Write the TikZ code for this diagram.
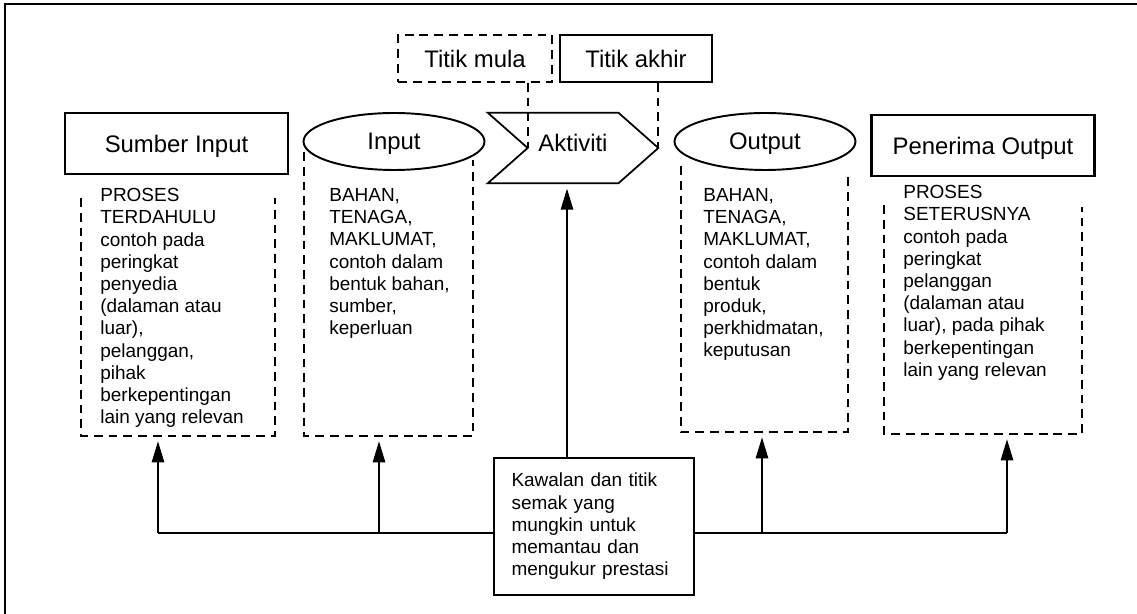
\documentclass[tikz,border=0pt]{standalone}
\usepackage{fontspec}
\setmainfont{Liberation Sans}
\usetikzlibrary{shapes.geometric, arrows.meta}
\tikzset{
	head/.style = {font=\fontsize{13.6}{16}\selectfont, text depth=0pt},
	srcbox/.style = {shape=rectangle, draw, line width=1.6pt, head, minimum width=4.46cm, minimum height=1.22cm},
	ioell/.style = {shape=ellipse, draw, line width=1.1pt, head, inner sep=0pt, minimum width=3.62cm, minimum height=1.14cm},
	ptbox/.style = {shape=rectangle, draw, line width=1pt, head, minimum height=0.94cm},
	desc/.style = {align=left, inner sep=0pt, anchor=north west, font=\fontsize{10.8}{12.65}\selectfont},
	ctrl/.style = {shape=rectangle, draw, line width=1pt, align=left, text width=3.3cm, inner xsep=0.35cm, inner ysep=0.3cm, font=\fontsize{10.8}{12.65}\selectfont},
	dashline/.style = {dash pattern=on 5pt off 3.4pt, line width=1.1pt},
	flow/.style = {-{Triangle[length=12pt, width=7pt]}, line width=1pt, shorten >=3pt},
}
\begin{document}
\begin{tikzpicture}[x=0.02cm, y=-0.02cm]
		\useasboundingbox (0,0) rectangle (1137,614);
		\clip (0,0) rectangle (1137,614);
		\draw[line width=1.1pt] (5,4) rectangle (1200,700);

		\node[srcbox] (sumber) at (176.5,143.5) {Sumber Input};
		\node[ioell] (input) at (394,141.5) {Input};
		\node[head, text depth=0.2cm, minimum width=3.4cm, minimum height=1.4cm] (aktiviti) at (573,148) {Aktiviti};
		\node[ioell] (output) at (765,141.5) {Output};
		\node[srcbox] (penerima) at (983,145.5) {Penerima Output};

		\node[ptbox, dashline, minimum width=3.08cm] (mula) at (475,58.5) {Titik mula};
		\node[ptbox, minimum width=3.04cm] (akhir) at (636,58.5) {Titik akhir};

		\draw[line width=1pt] (aktiviti.north west) -- ([xshift=-0.8cm]aktiviti.north east) -- (aktiviti.east)
			-- ([xshift=-0.8cm]aktiviti.south east) -- (aktiviti.south west) -- ([xshift=0.8cm]aktiviti.west) -- cycle;
		\coordinate (mula-pt) at ([xshift=0.8cm]aktiviti.west);
		\draw[dashline] (mula.south -| mula-pt) -- (mula-pt);
		\draw[dashline] (akhir.south -| aktiviti.east) -- (aktiviti.east);

		\draw[dashline] (81,198) |- (275,436) -- (275,198);
		\draw[dashline] (304,152) |- (473,436) -- (473,160);
		\draw[dashline] (681,166) |- (848,432) -- (848,172);
		\draw[dashline] (884,205) |- (1082,434) -- (1082,207);

		\node[desc] (sumber-txt) at (100,188) {PROSES\\TERDAHULU\\contoh pada\\peringkat\\penyedia\\(dalaman atau\\luar),\\pelanggan,\\pihak\\berkepentingan\\lain yang relevan};
		\node[desc] (input-txt) at (329,188) {BAHAN,\\TENAGA,\\MAKLUMAT,\\contoh dalam\\bentuk bahan,\\sumber,\\keperluan};
		\node[desc] (output-txt) at (703,188) {BAHAN,\\TENAGA,\\MAKLUMAT,\\contoh dalam\\bentuk\\produk,\\perkhidmatan,\\keputusan};
		\node[desc] (penerima-txt) at (903,185) {PROSES\\SETERUSNYA\\contoh pada\\peringkat\\pelanggan\\(dalaman atau\\luar), pada pihak\\berkepentingan\\lain yang relevan};

		\node[ctrl] (kawalan) at (594,526.5) {Kawalan dan titik\\semak yang\\mungkin untuk\\memantau dan\\mengukur prestasi};

		\coordinate (bus-l) at (158,533);
		\coordinate (bus-r) at (1007,533);
		\coordinate (sumber-in) at (158,436);
		\coordinate (input-in) at (379,436);
		\coordinate (output-in) at (762,432);
		\coordinate (penerima-in) at (1007,434);
		\coordinate (ctl) at (567,0);

		\draw[line width=1pt] (bus-l) -- (kawalan.west |- bus-l);
		\draw[line width=1pt] (kawalan.east |- bus-r) -- (bus-r);
		\draw[flow] (bus-l) -- (sumber-in);
		\draw[flow] (bus-l -| input-in) -- (input-in);
		\draw[flow] (bus-r -| output-in) -- (output-in);
		\draw[flow] (bus-r) -- (penerima-in);
		\draw[flow] (kawalan.north -| ctl) -- (aktiviti.south -| ctl);
	\end{tikzpicture}
\end{document}
